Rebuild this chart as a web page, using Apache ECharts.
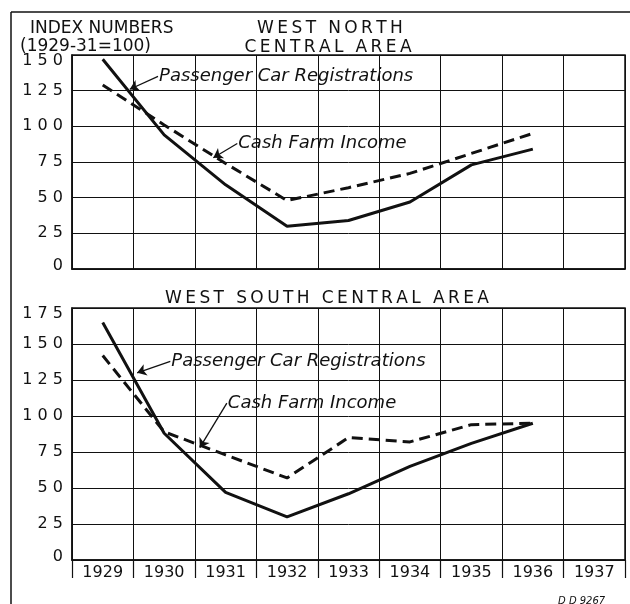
<!DOCTYPE html>
<html>
<head>
<meta charset="utf-8">
<script src="https://cdn.jsdelivr.net/npm/echarts@6/dist/echarts.min.js"></script>
<style>
  html, body { margin: 0; padding: 0; background: #fff; }
  #chart { width: 630px; height: 604px; }
</style>
</head>
<body>
<div id="chart"></div>
<script>
// index numbers, 1929-31 = 100
const years = ['1929', '1930', '1931', '1932', '1933', '1934', '1935', '1936', '1937'];
const northCars = [147, 94, 59, 30, 34, 47, 73, 84];
const northFarm = [129, 101, 74, 48, 57, 67, 81, 95];
const southCars = [165, 88, 47, 30, 46, 65, 81, 95];
const southFarm = [142, 89, 73, 57, 85, 82, 94, 95];
const northTicks = [0, 25, 50, 75, 100, 125, 150];
const southTicks = [0, 25, 50, 75, 100, 125, 150, 175];

// leader notes: [text, text start (x index, y), arrow tip (x index, y)]
const northNotes = [
  ['Passenger Car Registrations', [0.90, 135], [0.44, 126]],
  ['Cash Farm Income', [2.19, 88], [1.80, 78]]
];
const southNotes = [
  ['Passenger Car Registrations', [1.10, 138], [0.56, 130]],
  ['Cash Farm Income', [2.02, 109], [1.58, 78]]
];

const ink = '#111';
const font = '"DejaVu Sans", sans-serif';

const chart = echarts.init(document.getElementById('chart'));

// old hand lettering is widely spaced
const spaced = v => String(v).split('').join(' ');
const track = s => s.split('').join('\u2009');

function valAxisLabel(ticks) {
  const lo = ticks[0];
  const hi = ticks[ticks.length - 1];
  // end labels sit inside the frame, as in the drawing
  return v => {
    if (v === hi) return '{hi|' + spaced(v) + '}';
    if (v === lo) return '{lo|' + spaced(v) + '}';
    return spaced(v);
  };
}

function catAxis(gridIndex, showLabels) {
  return {
    type: 'category',
    gridIndex: gridIndex,
    data: years,
    boundaryGap: true,
    axisLine: { show: true, onZero: false, lineStyle: { color: ink, width: 1.5 } },
    axisTick: { show: showLabels, length: 18, lineStyle: { color: ink, width: 1.2 } },
    axisLabel: { show: showLabels, color: ink, fontSize: 16, fontFamily: font, margin: 5 },
    splitLine: { show: true, lineStyle: { color: ink, width: 1 } }
  };
}

function noteAxis(gridIndex) {
  return {
    type: 'value',
    gridIndex: gridIndex,
    min: -0.5,
    max: 8.5,
    show: false
  };
}

function valAxis(gridIndex, ticks) {
  return {
    type: 'value',
    gridIndex: gridIndex,
    min: ticks[0],
    max: ticks[ticks.length - 1],
    interval: 25,
    axisLine: { show: true, onZero: false, lineStyle: { color: ink, width: 1.5 } },
    axisTick: { show: false },
    axisLabel: {
      color: ink,
      fontSize: 16,
      fontFamily: font,
      margin: 9,
      formatter: valAxisLabel(ticks),
      rich: {
        hi: { color: ink, fontSize: 16, fontFamily: font, padding: [12, 0, 0, 0] },
        lo: { color: ink, fontSize: 16, fontFamily: font, padding: [0, 0, 7, 0] }
      }
    },
    splitLine: { show: true, lineStyle: { color: ink, width: 1 } }
  };
}

function lineSeries(name, data, xi, yi, dashed) {
  return {
    name: name,
    type: 'line',
    xAxisIndex: xi,
    yAxisIndex: yi,
    data: data,
    showSymbol: false,
    silent: true,
    lineStyle: { color: ink, width: 3, type: dashed ? [11, 6] : 'solid' }
  };
}

function noteSeries(notes, xi, yi) {
  return {
    type: 'line',
    xAxisIndex: xi,
    yAxisIndex: yi,
    data: [],
    silent: true,
    markLine: {
      silent: true,
      symbol: ['none', 'arrow'],
      symbolSize: 9,
      label: { show: false },
      lineStyle: { color: ink, width: 1.3, type: 'solid' },
      data: notes.map(n => [{ coord: n[1] }, { coord: n[2] }])
    },
    markPoint: {
      silent: true,
      symbol: 'circle',
      symbolSize: 0,
      label: {
        show: true,
        position: 'right',
        distance: 1,
        color: ink,
        fontSize: 18,
        fontStyle: 'italic',
        fontFamily: font,
        formatter: p => p.name
      },
      data: notes.map(n => ({ name: n[0], coord: n[1] }))
    }
  };
}

const titleStyle = { color: ink, fontSize: 17, fontWeight: 'normal', fontFamily: font };

chart.setOption({
  animation: false,
  backgroundColor: '#fff',
  title: [
    { text: 'INDEX NUMBERS', left: 25, top: 15, textStyle: titleStyle },
    { text: '(1929-31=100)', left: 15, top: 33, textStyle: titleStyle },
    { text: track('WEST NORTH'), left: 325, top: 15, textAlign: 'center', textStyle: titleStyle },
    { text: track('CENTRAL AREA'), left: 323, top: 34, textAlign: 'center', textStyle: titleStyle },
    { text: track('WEST SOUTH CENTRAL AREA'), left: 322, top: 285, textAlign: 'center', textStyle: titleStyle },
    { text: 'D D 9267', left: 553, top: 591, textStyle: { color: ink, fontSize: 10, fontStyle: 'italic', fontWeight: 'normal', fontFamily: font } }
  ],
  grid: [
    { left: 72, top: 55, width: 553, height: 214, show: true, borderColor: ink, borderWidth: 1.5 },
    { left: 72, top: 308, width: 553, height: 252, show: true, borderColor: ink, borderWidth: 1.5 }
  ],
  xAxis: [catAxis(0, false), noteAxis(0), catAxis(1, true), noteAxis(1)],
  yAxis: [valAxis(0, northTicks), valAxis(1, southTicks)],
  series: [
    lineSeries('Passenger Car Registrations', northCars, 0, 0, false),
    lineSeries('Cash Farm Income', northFarm, 0, 0, true),
    noteSeries(northNotes, 1, 0),
    lineSeries('Passenger Car Registrations', southCars, 2, 1, false),
    lineSeries('Cash Farm Income', southFarm, 2, 1, true),
    noteSeries(southNotes, 3, 1)
  ],
  graphic: [
    // page frame, top and left edges
    { type: 'line', shape: { x1: 11, y1: 12, x2: 630, y2: 12 }, style: { stroke: ink, lineWidth: 1.5 } },
    { type: 'line', shape: { x1: 11, y1: 12, x2: 11, y2: 604 }, style: { stroke: ink, lineWidth: 1.5 } }
  ]
});
</script>
</body>
</html>
